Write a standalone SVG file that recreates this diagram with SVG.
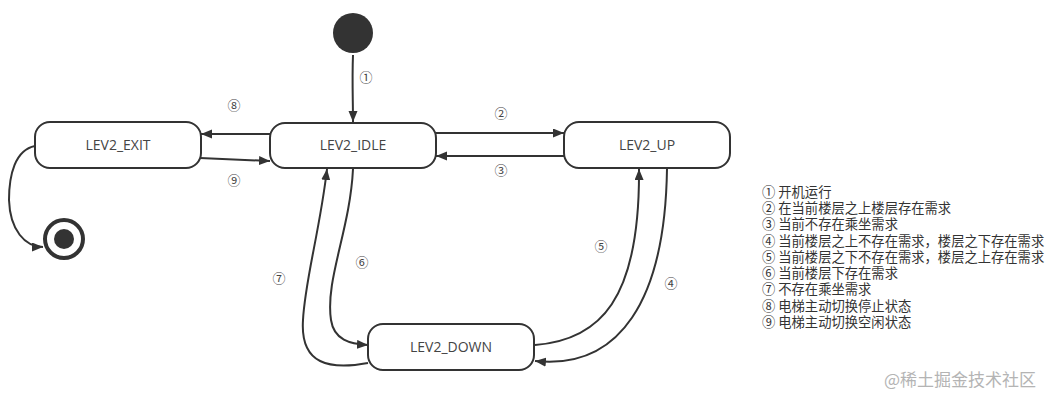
<svg xmlns="http://www.w3.org/2000/svg" width="1059" height="404" viewBox="0 0 1059 404">
<style>
.node rect{fill:#fff;stroke:#333;stroke-width:2}
.lbl{font-family:"Open Sans","Noto Sans",sans-serif;font-size:14px;fill:#444;text-anchor:middle}
.edge{fill:none;stroke:#333;stroke-width:2;marker-end:url(#arr)}
.num{font-family:"Noto Sans CJK SC","DejaVu Sans",sans-serif;font-size:13px;fill:#444;text-anchor:middle}
.leg{font-family:"Noto Sans CJK SC","Noto Sans",sans-serif;font-size:13.3px;fill:#333}
.wm{font-family:"Noto Sans CJK SC",sans-serif;font-size:17px;fill:#b4b4b4}
</style>
<defs>
<marker id="arr" markerUnits="userSpaceOnUse" markerWidth="12" markerHeight="10" refX="11" refY="4.5" orient="auto">
<path d="M0,0 L11,4.5 L0,9 z" fill="#333"/>
</marker>
</defs>
<rect width="1059" height="404" fill="#fff"/>
<g id="start"><circle cx="353" cy="33" r="20" fill="#333"/></g>
<g id="end"><circle cx="64" cy="239" r="19" fill="#fff" stroke="#333" stroke-width="4"/><circle cx="64" cy="239" r="10" fill="#333"/></g>
<g id="exit" class="node"><rect x="35" y="122" width="166" height="46" rx="15"/><text class="lbl" x="118" y="150">LEV2_EXIT</text></g>
<g id="idle" class="node"><rect x="270" y="123" width="166" height="45" rx="15"/><text class="lbl" x="353" y="150">LEV2_IDLE</text></g>
<g id="up" class="node"><rect x="564" y="122" width="166" height="46" rx="15"/><text class="lbl" x="647" y="150">LEV2_UP</text></g>
<g id="down" class="node"><rect x="368" y="324" width="166" height="46" rx="15"/><text class="lbl" x="451" y="352">LEV2_DOWN</text></g>
<g id="edges">
<path class="edge" d="M353,55 C352,80 353,100 353,122"/>
<path class="edge" d="M270,134 L201,134"/>
<path class="edge" d="M200,158 L270,161"/>
<path class="edge" d="M436,133 L564,133"/>
<path class="edge" d="M564,156 L436,156"/>
<path class="edge" d="M535,345 C600,340 640,300 639,169"/>
<path class="edge" d="M667,169 C665,300 620,370 535,361"/>
<path class="edge" d="M353,169 C350,230 325,280 331,320 C334,340 350,344 368,345"/>
<path class="edge" d="M368,363 C330,370 300,365 303,320 C305,280 320,230 327,169"/>
<path class="edge" d="M35,146 C15,150 9,175 9,200 C10,230 25,247 43,247"/>
<text class="num" x="366" y="82">①</text>
<text class="num" x="234" y="110">⑧</text>
<text class="num" x="234" y="185">⑨</text>
<text class="num" x="501" y="118">②</text>
<text class="num" x="501" y="175">③</text>
<text class="num" x="601" y="251">⑤</text>
<text class="num" x="671" y="288">④</text>
<text class="num" x="362" y="267">⑥</text>
<text class="num" x="279" y="283">⑦</text>
</g>
<g id="legend">
<text class="leg" x="762" y="197">① 开机运行</text>
<text class="leg" x="762" y="213">② 在当前楼层之上楼层存在需求</text>
<text class="leg" x="762" y="229">③ 当前不存在乘坐需求</text>
<text class="leg" x="762" y="246">④ 当前楼层之上不存在需求，楼层之下存在需求</text>
<text class="leg" x="762" y="262">⑤ 当前楼层之下不存在需求，楼层之上存在需求</text>
<text class="leg" x="762" y="278">⑥ 当前楼层下存在需求</text>
<text class="leg" x="762" y="294">⑦ 不存在乘坐需求</text>
<text class="leg" x="762" y="311">⑧ 电梯主动切换停止状态</text>
<text class="leg" x="762" y="327">⑨ 电梯主动切换空闲状态</text>
</g>
<text class="wm" x="884" y="386">@稀土掘金技术社区</text>
</svg>
